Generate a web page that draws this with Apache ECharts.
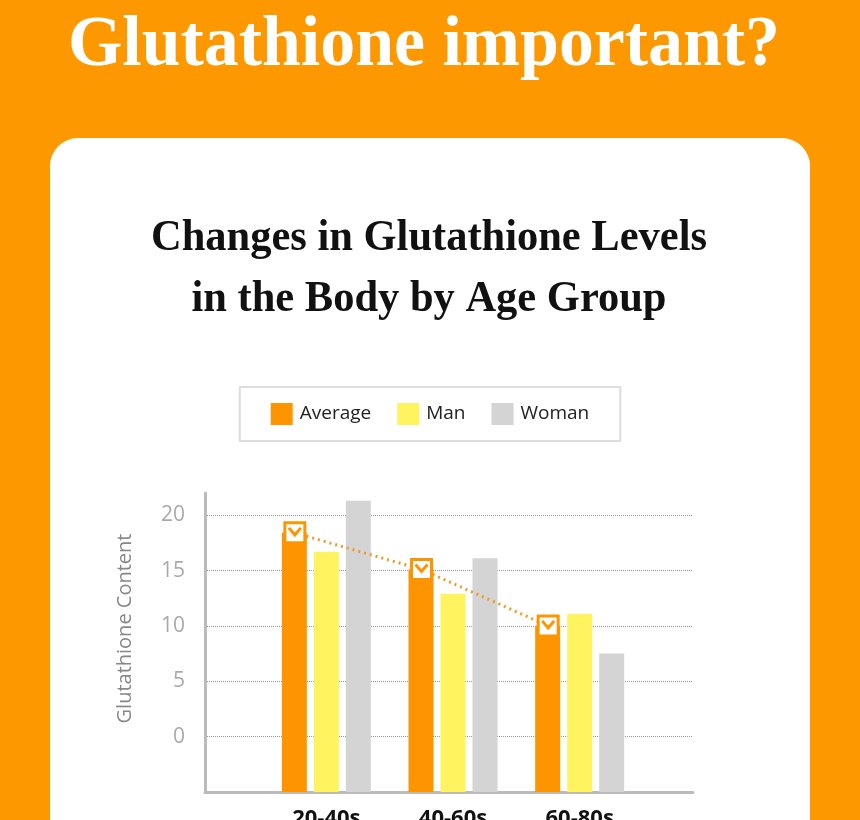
<!DOCTYPE html>
<html>
<head>
<meta charset="utf-8">
<style>
  html, body { margin: 0; padding: 0; background: #FE9800; }
  #chart { width: 860px; height: 820px; }
</style>
<script src="https://cdn.jsdelivr.net/npm/echarts@6/dist/echarts.min.js"></script>
</head>
<body>
<div id="chart"></div>
<script>
var ageGroups = ['20-40s', '40-60s', '60-80s'];
var seriesNames = ['Average', 'Man', 'Woman'];
var averageValues = [18.4, 15.1, 10.0];
var manValues = [16.7, 12.9, 11.1];
var womanValues = [21.3, 16.1, 7.5];

var orange = '#FE9500';
var yellow = '#FFF460';
var grey = '#D4D4D4';

var chart = echarts.init(document.getElementById('chart'));

// the reference fonts are narrower than what is installed, so squeeze text to width
var measureCtx = document.createElement('canvas').getContext('2d');
function fitScale(text, font, targetWidth) {
    measureCtx.font = font;
    return targetWidth / measureCtx.measureText(text).width;
}

var headFont = 'bold 72px "Liberation Serif"';
var headText = 'Glutathione important?';
var titleFont = 'bold 45px "Liberation Serif"';
var titleLine1 = 'Changes in Glutathione Levels';
var titleLine2 = 'in the Body by Age Group';

// shared value range: baseline sits one step below zero
var yMin = -5, yMax = 22;

var option = {
    backgroundColor: '#FE9800',
    animation: false,
    graphic: [
        {
            type: 'rect',
            shape: { x: 50, y: 138, width: 760, height: 760, r: 28 },
            style: { fill: '#fff' },
            z: -10
        },
        {
            type: 'text',
            x: 424, y: 46,
            scaleX: fitScale(headText, headFont, 712),
            style: {
                text: headText, fill: '#fff', font: headFont,
                align: 'center', verticalAlign: 'middle'
            }
        },
        {
            type: 'text',
            x: 429, y: 238,
            scaleX: fitScale(titleLine1, titleFont, 556),
            style: {
                text: titleLine1, fill: '#111', font: titleFont,
                align: 'center', verticalAlign: 'middle'
            }
        },
        {
            type: 'text',
            x: 429, y: 299,
            scaleX: fitScale(titleLine1, titleFont, 556),
            style: {
                text: titleLine2, fill: '#111', font: titleFont,
                align: 'center', verticalAlign: 'middle'
            }
        }
    ],
    legend: {
        data: seriesNames,
        left: 'center',
        top: 387,
        icon: 'rect',
        padding: [16, 31, 16, 31],
        borderColor: '#ddd',
        borderWidth: 2,
        itemWidth: 22,
        itemHeight: 22,
        itemGap: 26,
        textStyle: { fontFamily: 'Open Sans', fontSize: 19, color: '#222', padding: [0, 0, 0, 2] }
    },
    grid: [
        { left: 205, right: 167, top: 493, bottom: 28, outerBoundsMode: 'none' },
        { left: 263, width: 380, top: 493, bottom: 28, outerBoundsMode: 'none' },
        { left: 231.5, width: 380, top: 493, bottom: 28, outerBoundsMode: 'none' }
    ],
    xAxis: [
        {
            type: 'category', gridIndex: 0, data: ageGroups,
            axisLine: { onZero: false, lineStyle: { color: '#bbb', width: 3 } },
            axisTick: { show: false }, axisLabel: { show: false }
        },
        {
            type: 'category', gridIndex: 1, data: ageGroups,
            axisLine: { show: false }, axisTick: { show: false },
            axisLabel: {
                margin: 16, color: '#111', fontSize: 22, fontWeight: 'bold',
                fontFamily: 'Open Sans'
            }
        },
        {
            type: 'category', gridIndex: 2, data: ageGroups, show: false
        }
    ],
    yAxis: [
        {
            type: 'value', gridIndex: 0, min: yMin, max: yMax, interval: 5,
            name: 'Glutathione Content',
            nameLocation: 'middle',
            nameGap: 70,
            nameTextStyle: {
                color: '#888', fontSize: 20, fontFamily: 'Open Sans',
                padding: [0, 0, 0, 28]
            },
            axisLine: { show: true, lineStyle: { color: '#bbb', width: 3 } },
            axisTick: { show: false },
            axisLabel: {
                margin: 20, color: '#aaa', fontSize: 21, fontFamily: 'Open Sans',
                showMaxLabel: false,
                formatter: function (v) { return v < 0 ? '' : v; }
            },
            splitLine: {
                showMinLine: false, showMaxLine: false,
                lineStyle: { color: '#999', type: [1, 1], width: 1 }
            }
        },
        {
            type: 'value', gridIndex: 1, min: yMin, max: yMax, interval: 5,
            startValue: yMin, show: false, splitLine: { show: false }
        },
        {
            type: 'value', gridIndex: 2, min: yMin, max: yMax, interval: 5,
            show: false, splitLine: { show: false }
        }
    ],
    series: [
        {
            name: 'Average', type: 'bar', xAxisIndex: 1, yAxisIndex: 1,
            data: averageValues, barWidth: 25, barGap: '28%',
            itemStyle: { color: orange }
        },
        {
            name: 'Man', type: 'bar', xAxisIndex: 1, yAxisIndex: 1,
            data: manValues, barWidth: 25, barGap: '28%',
            itemStyle: { color: yellow }
        },
        {
            name: 'Woman', type: 'bar', xAxisIndex: 1, yAxisIndex: 1,
            data: womanValues, barWidth: 25, barGap: '28%',
            itemStyle: { color: grey }
        },
        {
            name: 'Average trend', type: 'line', xAxisIndex: 2, yAxisIndex: 2,
            data: averageValues, z: 5,
            symbol: 'path://M0,0 L20,0 L20,20 L0,20 Z M4,5 L10,12 L16,5',
            symbolSize: 20,
            lineStyle: { color: '#EE9A28', width: 3, type: [2, 4] },
            itemStyle: { color: '#fff', borderColor: orange, borderWidth: 3 }
        }
    ]
};

chart.setOption(option);
</script>
</body>
</html>
